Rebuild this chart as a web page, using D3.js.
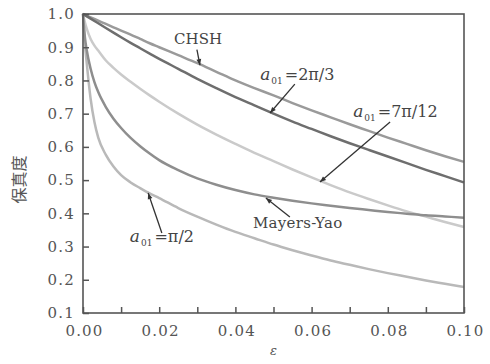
<!DOCTYPE html>
<html><head><meta charset="utf-8">
<script src="https://cdn.jsdelivr.net/npm/d3@7"></script>
<style>
body{margin:0;background:#fff;}
svg{display:block;}
</style></head>
<body><svg id="chart" width="490" height="364"></svg>
<script>
// ---- data ----
const eps = [0, 0.0005, 0.001, 0.002, 0.003, 0.004, 0.006, 0.008, 0.01, 0.0125, 0.015, 0.0175, 0.02, 0.025, 0.03, 0.035, 0.04, 0.045, 0.05, 0.055, 0.06, 0.065, 0.07, 0.075, 0.08, 0.085, 0.09, 0.095, 0.10];
const chsh      = [1.0, 0.9975, 0.995, 0.99, 0.985, 0.98, 0.97, 0.96, 0.95, 0.938, 0.925, 0.912, 0.90, 0.876, 0.852, 0.826, 0.80, 0.777, 0.755, 0.732, 0.71, 0.689, 0.668, 0.648, 0.628, 0.609, 0.59, 0.572, 0.555];
const a2pi3     = [1.0, 0.9965, 0.993, 0.986, 0.979, 0.972, 0.958, 0.944, 0.93, 0.913, 0.897, 0.881, 0.865, 0.835, 0.805, 0.777, 0.75, 0.725, 0.70, 0.676, 0.654, 0.632, 0.611, 0.591, 0.571, 0.551, 0.531, 0.512, 0.493];
const a7pi12    = [1.0, 0.975, 0.955, 0.925, 0.905, 0.89, 0.86, 0.838, 0.818, 0.796, 0.775, 0.755, 0.736, 0.70, 0.667, 0.637, 0.609, 0.582, 0.557, 0.532, 0.508, 0.485, 0.463, 0.443, 0.424, 0.406, 0.39, 0.374, 0.359];
const mayersYao = [1.0, 0.93, 0.89, 0.835, 0.795, 0.765, 0.72, 0.685, 0.657, 0.627, 0.602, 0.58, 0.56, 0.53, 0.505, 0.486, 0.47, 0.457, 0.447, 0.438, 0.43, 0.423, 0.416, 0.41, 0.404, 0.399, 0.394, 0.3905, 0.387];
const aPi2      = [1.0, 0.91, 0.85, 0.745, 0.675, 0.628, 0.576, 0.541, 0.515, 0.493, 0.476, 0.46, 0.446, 0.416, 0.39, 0.366, 0.344, 0.325, 0.306, 0.289, 0.273, 0.258, 0.245, 0.232, 0.22, 0.209, 0.198, 0.188, 0.178];
const xTicks = [0, 0.01, 0.02, 0.03, 0.04, 0.05, 0.06, 0.07, 0.08, 0.09, 0.10];
const xTickLabels = ["0.00", "", "0.02", "", "0.04", "", "0.06", "", "0.08", "", "0.10"];
const yTicks = [0.1, 0.2, 0.3, 0.4, 0.5, 0.6, 0.7, 0.8, 0.9, 1.0];
const yTickLabels = ["0.1", "0.2", "0.3", "0.4", "0.5", "0.6", "0.7", "0.8", "0.9", "1.0"];
const seriesNames = ["CHSH", "a01=2π/3", "a01=7π/12", "Mayers-Yao", "a01=π/2"];
const seriesColors = ["#9a9a9a", "#6e6e6e", "#cacaca", "#8e8e8e", "#b9b9b9"];
// annotations: label anchor (data units), arrow start -> arrow tip (data units)
const annotations = [
  {sub: false, text: "CHSH", lx: 0.0302, ly: 0.910, anchor: "middle", x1: 0.0299, y1: 0.893, x2: 0.0307, y2: 0.846},
  {sub: true, text: "=2π/3", lx: 0.0465, ly: 0.801, anchor: "start", x1: 0.0556, y1: 0.789, x2: 0.0491, y2: 0.702},
  {sub: true, text: "=7π/12", lx: 0.0709, ly: 0.690, anchor: "start", x1: 0.0806, y1: 0.675, x2: 0.0622, y2: 0.494},
  {sub: false, text: "Mayers-Yao", lx: 0.0446, ly: 0.356, anchor: "start", x1: 0.0543, y1: 0.389, x2: 0.0480, y2: 0.446},
  {sub: true, text: "=π/2", lx: 0.0123, ly: 0.314, anchor: "start", x1: 0.0207, y1: 0.341, x2: 0.0171, y2: 0.461}
];

// ---- chart ----
const W = 490, H = 364;
const margin = {left: 83, right: 26, top: 14, bottom: 51};
const svg = d3.select("#chart");
const x = d3.scaleLinear().domain([0, 0.10]).range([margin.left, W - margin.right]);
const y = d3.scaleLinear().domain([0.1, 1.0]).range([H - margin.bottom, margin.top]);

const series = [chsh, a2pi3, a7pi12, mayersYao, aPi2];
const line = d3.line().x(d => x(d[0])).y(d => y(d[1])).curve(d3.curveMonotoneX);

const plot = svg.append("g");
const order = [2, 4, 0, 3, 1];
order.forEach(i => {
  plot.append("path")
    .datum(eps.map((e, k) => [e, series[i][k]]))
    .attr("d", line)
    .attr("fill", "none")
    .attr("stroke", seriesColors[i])
    .attr("stroke-width", 2.5)
    .attr("stroke-linejoin", "round");
});

// frame
svg.append("rect")
  .attr("x", x(0)).attr("y", y(1.0))
  .attr("width", x(0.10) - x(0)).attr("height", y(0.1) - y(1.0))
  .attr("fill", "none").attr("stroke", "#555").attr("stroke-width", 1.6);

const SERIF = "DejaVu Serif";

// x axis (ticks inward)
const xAxis = d3.axisBottom(x).tickValues(xTicks).tickSizeInner(-6).tickSizeOuter(0).tickPadding(12)
  .tickFormat((d, i) => xTickLabels[i]);
const gx = svg.append("g").attr("transform", `translate(0,${y(0.1)})`).call(xAxis)
  .attr("font-family", SERIF).attr("font-size", 15);
gx.select(".domain").remove();
gx.selectAll(".tick line").attr("stroke", "#555").attr("stroke-width", 1.5);
gx.selectAll(".tick text").attr("fill", "#555").attr("letter-spacing", "1.2").attr("dx", "1");

// y axis
const yAxis = d3.axisLeft(y).tickValues(yTicks).tickSizeInner(-6).tickSizeOuter(0).tickPadding(8)
  .tickFormat((d, i) => yTickLabels[i]);
const gy = svg.append("g").attr("transform", `translate(${x(0)},0)`).call(yAxis)
  .attr("font-family", SERIF).attr("font-size", 15);
gy.select(".domain").remove();
gy.selectAll(".tick line").attr("stroke", "#555").attr("stroke-width", 1.5);
gy.selectAll(".tick text").attr("fill", "#555").attr("letter-spacing", "1.2");

// axis titles
svg.append("text").attr("font-family", SERIF).attr("x", x(0.05)).attr("y", H - 9).attr("text-anchor", "middle")
  .attr("font-style", "italic").attr("font-size", 13).attr("fill", "#555").text("ε");
svg.append("text").attr("transform", `translate(25,${(y(1.0)+y(0.1))/2 + 16}) rotate(-90)`).attr("text-anchor", "middle")
  .attr("font-family", "Noto Sans CJK SC").attr("font-size", 16).attr("fill", "#555").text("保真度");

// arrow marker
svg.append("defs").append("marker").attr("id", "arr")
  .attr("viewBox", "0 0 10 10").attr("refX", 10).attr("refY", 5)
  .attr("markerWidth", 9).attr("markerHeight", 6).attr("markerUnits", "userSpaceOnUse").attr("orient", "auto")
  .append("path").attr("d", "M0,1 L10,5 L0,9 Z").attr("fill", "#333");

const ann = svg.append("g");
annotations.forEach(a => {
  ann.append("line").attr("x1", x(a.x1)).attr("y1", y(a.y1)).attr("x2", x(a.x2)).attr("y2", y(a.y2))
    .attr("stroke", "#333").attr("stroke-width", 1.3).attr("marker-end", "url(#arr)");
  const t = ann.append("text").attr("font-family", SERIF).attr("x", x(a.lx)).attr("y", y(a.ly)).attr("text-anchor", a.anchor)
    .attr("font-size", 15).attr("fill", "#444");
  if (a.sub) {
    t.append("tspan").attr("font-style", "italic").attr("font-size", 17).text("a");
    t.append("tspan").attr("dy", "4").attr("font-size", 9).attr("dx", "1").text("01");
    t.append("tspan").attr("dy", "-4").attr("dx", "2").attr("font-size", 16).text(a.text);
  } else {
    t.attr("letter-spacing", a.text === "Mayers-Yao" ? "0.3" : "0").text(a.text);
  }
});
</script>
</body></html>
